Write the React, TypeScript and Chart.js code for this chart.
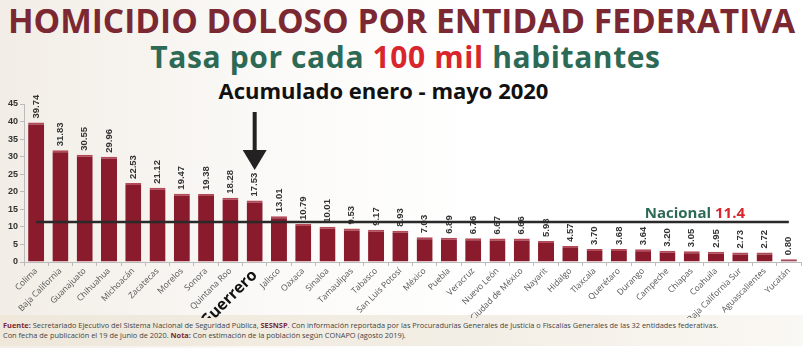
import React, { useEffect, useRef } from "react";
import { Chart, registerables } from "chart.js";

Chart.register(...registerables);

const states = [
  "Colima", "Baja California", "Guanajuato", "Chihuahua", "Michoacán", "Zacatecas",
  "Morelos", "Sonora", "Quintana Roo", "Guerrero", "Jalisco", "Oaxaca", "Sinaloa",
  "Tamaulipas", "Tabasco", "San Luis Potosí", "México", "Puebla", "Veracruz",
  "Nuevo León", "Ciudad de México", "Nayarit", "Hidalgo", "Tlaxcala", "Querétaro",
  "Durango", "Campeche", "Chiapas", "Coahuila", "Baja California Sur",
  "Aguascalientes", "Yucatán",
];
const rates = [
  39.74, 31.83, 30.55, 29.96, 22.53, 21.12, 19.47, 19.38, 18.28, 17.53, 13.01, 10.79,
  10.01, 9.53, 9.17, 8.93, 7.03, 6.89, 6.76, 6.67, 6.66, 5.98, 4.57, 3.7, 3.68, 3.64,
  3.2, 3.05, 2.95, 2.73, 2.72, 0.8,
];
const yTicks = [0, 5, 10, 15, 20, 25, 30, 35, 40, 45];
const NACIONAL = 11.4;
const HIGHLIGHT = "Guerrero";

const GREEN = "#2d6a56";
const RED = "#d8262c";
const MAROON = "#7b2832";

const overlay = {
  id: "overlay",
  afterDatasetsDraw(chart: any) {
    const ctx = chart.ctx;
    const meta = chart.getDatasetMeta(0);
    const y = chart.scales.y;
    ctx.save();
    // value labels
    ctx.font = "bold 9.5px 'Liberation Sans', Arial, sans-serif";
    ctx.fillStyle = "#333";
    meta.data.forEach((bar: any, i: number) => {
      ctx.save();
      ctx.translate(bar.x, bar.y - 4);
      ctx.rotate(-Math.PI / 2);
      ctx.textAlign = "left";
      ctx.textBaseline = "middle";
      ctx.fillText(rates[i].toFixed(2), 0, 0);
      ctx.restore();
    });
    // national line
    const yN = y.getPixelForValue(NACIONAL);
    const first = meta.data[0];
    const last = meta.data[meta.data.length - 1];
    ctx.strokeStyle = "#2a2a2a";
    ctx.lineWidth = 2.5;
    ctx.beginPath();
    ctx.moveTo(first.x, yN);
    ctx.lineTo(last.x, yN);
    ctx.stroke();
    // nacional text
    ctx.font = "bold 15px 'Open Sans', sans-serif";
    ctx.textBaseline = "alphabetic";
    ctx.textAlign = "left";
    const t1 = "Nacional ";
    const t2 = String(NACIONAL);
    const w1 = ctx.measureText(t1).width;
    const w2 = ctx.measureText(t2).width;
    const xEnd = 745;
    const xs = xEnd - w1 - w2;
    ctx.fillStyle = GREEN;
    ctx.fillText(t1, xs, yN - 4);
    ctx.fillStyle = RED;
    ctx.fillText(t2, xs + w1, yN - 4);
    // arrow over highlighted state
    const hi = states.indexOf(HIGHLIGHT);
    if (hi >= 0) {
      const bx = meta.data[hi].x;
      ctx.fillStyle = "#222";
      ctx.fillRect(bx - 2, 112, 4, 42);
      ctx.beginPath();
      ctx.moveTo(bx - 12, 150);
      ctx.lineTo(bx + 12, 150);
      ctx.lineTo(bx, 170);
      ctx.closePath();
      ctx.fill();
    }
    ctx.restore();
  },
};

export default function App() {
  const ref = useRef<HTMLCanvasElement>(null);
  useEffect(() => {
    if (!ref.current) return;
    const chart = new Chart(ref.current, {
      type: "bar",
      data: {
        labels: states,
        datasets: [
          {
            data: rates,
            backgroundColor: "#8a1b2c",
            borderColor: "#b24a58",
            borderWidth: { top: 2, left: 0, right: 0, bottom: 0 },
            borderSkipped: false,
            barPercentage: 0.66,
            categoryPercentage: 1,
          },
        ],
      },
      options: {
        responsive: false,
        animation: false,
        layout: { padding: { top: 104, right: 2, bottom: 30, left: 0 } },
        plugins: { legend: { display: false }, tooltip: { enabled: false } },
        scales: {
          x: {
            afterFit: (s: any) => {
              s.height = 56;
            },
            grid: { drawOnChartArea: false, tickLength: 4, color: "#bbb" },
            border: { color: "#bbb" },
            ticks: {
              autoSkip: false,
              maxRotation: 45,
              minRotation: 45,
              padding: 0,
              color: (c: any) => (states[c.index] === HIGHLIGHT ? "#111" : "#555"),
              font: (c: any) =>
                states[c.index] === HIGHLIGHT
                  ? { family: "'Open Sans', sans-serif", size: 16, weight: "bold" }
                  : { family: "'Open Sans', sans-serif", size: 8.5 },
            },
          },
          y: {
            min: 0,
            max: 45,
            afterFit: (s: any) => {
              s.width = 24;
            },
            afterBuildTicks: (s: any) => {
              s.ticks = yTicks.map((v) => ({ value: v }));
            },
            grid: { drawOnChartArea: false, tickLength: 4, color: "#bbb" },
            border: { color: "#bbb" },
            ticks: {
              padding: 2,
              color: "#333",
              font: { family: "'Liberation Sans', Arial, sans-serif", size: 9, weight: "bold" },
            },
          },
        },
      },
      plugins: [overlay],
    });
    return () => chart.destroy();
  }, []);

  return (
    <div
      style={{
        position: "absolute",
        left: 0,
        top: 0,
        width: 803,
        height: 348,
        overflow: "hidden",
        background: "linear-gradient(to right, #f2ede6 0%, #fbfaf8 35%, #ffffff 60%)",
        fontFamily: "'Open Sans', sans-serif",
      }}
    >
      <div
        style={{
          position: "absolute",
          left: 0,
          top: 4,
          width: 803,
          textAlign: "center",
          fontSize: 33.5,
          lineHeight: "33px",
          fontWeight: 700,
          color: MAROON,
          whiteSpace: "nowrap",
        }}
      >
        HOMICIDIO DOLOSO POR ENTIDAD FEDERATIVA
      </div>
      <div
        style={{
          position: "absolute",
          left: 4,
          top: 42,
          width: 803,
          textAlign: "center",
          fontSize: 30,
          lineHeight: "30px",
          letterSpacing: 0.6,
          fontWeight: 700,
          color: GREEN,
          whiteSpace: "nowrap",
        }}
      >
        Tasa por cada <span style={{ color: RED }}>100 mil</span> habitantes
      </div>
      <div
        style={{
          position: "absolute",
          left: -18,
          top: 79,
          width: 803,
          textAlign: "center",
          fontSize: 22,
          lineHeight: "22px",
          fontWeight: 700,
          color: "#111",
          whiteSpace: "nowrap",
        }}
      >
        Acumulado enero - mayo 2020
      </div>
      <div
        style={{
          position: "absolute",
          left: 0,
          top: 315,
          width: 803,
          height: 31,
          background: "linear-gradient(to right, #eee7da 0%, #f3eee5 60%, #faf8f4 100%)",
        }}
      />
      <div
        style={{
          position: "absolute",
          left: 3,
          top: 320,
          fontSize: 7.4,
          lineHeight: "10px",
          color: "#444",
          whiteSpace: "nowrap",
        }}
      >
        <div>
          <b style={{ color: MAROON }}>Fuente:</b> Secretariado Ejecutivo del Sistema Nacional de
          Seguridad Pública, <b style={{ color: MAROON }}>SESNSP</b>. Con información reportada por
          las Procuradurías Generales de Justicia o Fiscalías Generales de las 32 entidades
          federativas.
        </div>
        <div>
          Con fecha de publicación el 19 de junio de 2020. <b style={{ color: MAROON }}>Nota:</b> Con
          estimación de la población según CONAPO (agosto 2019).
        </div>
      </div>
      <canvas
        ref={ref}
        width={803}
        height={348}
        style={{ position: "absolute", left: 0, top: 0, width: 803, height: 348 }}
      />
    </div>
  );
}
